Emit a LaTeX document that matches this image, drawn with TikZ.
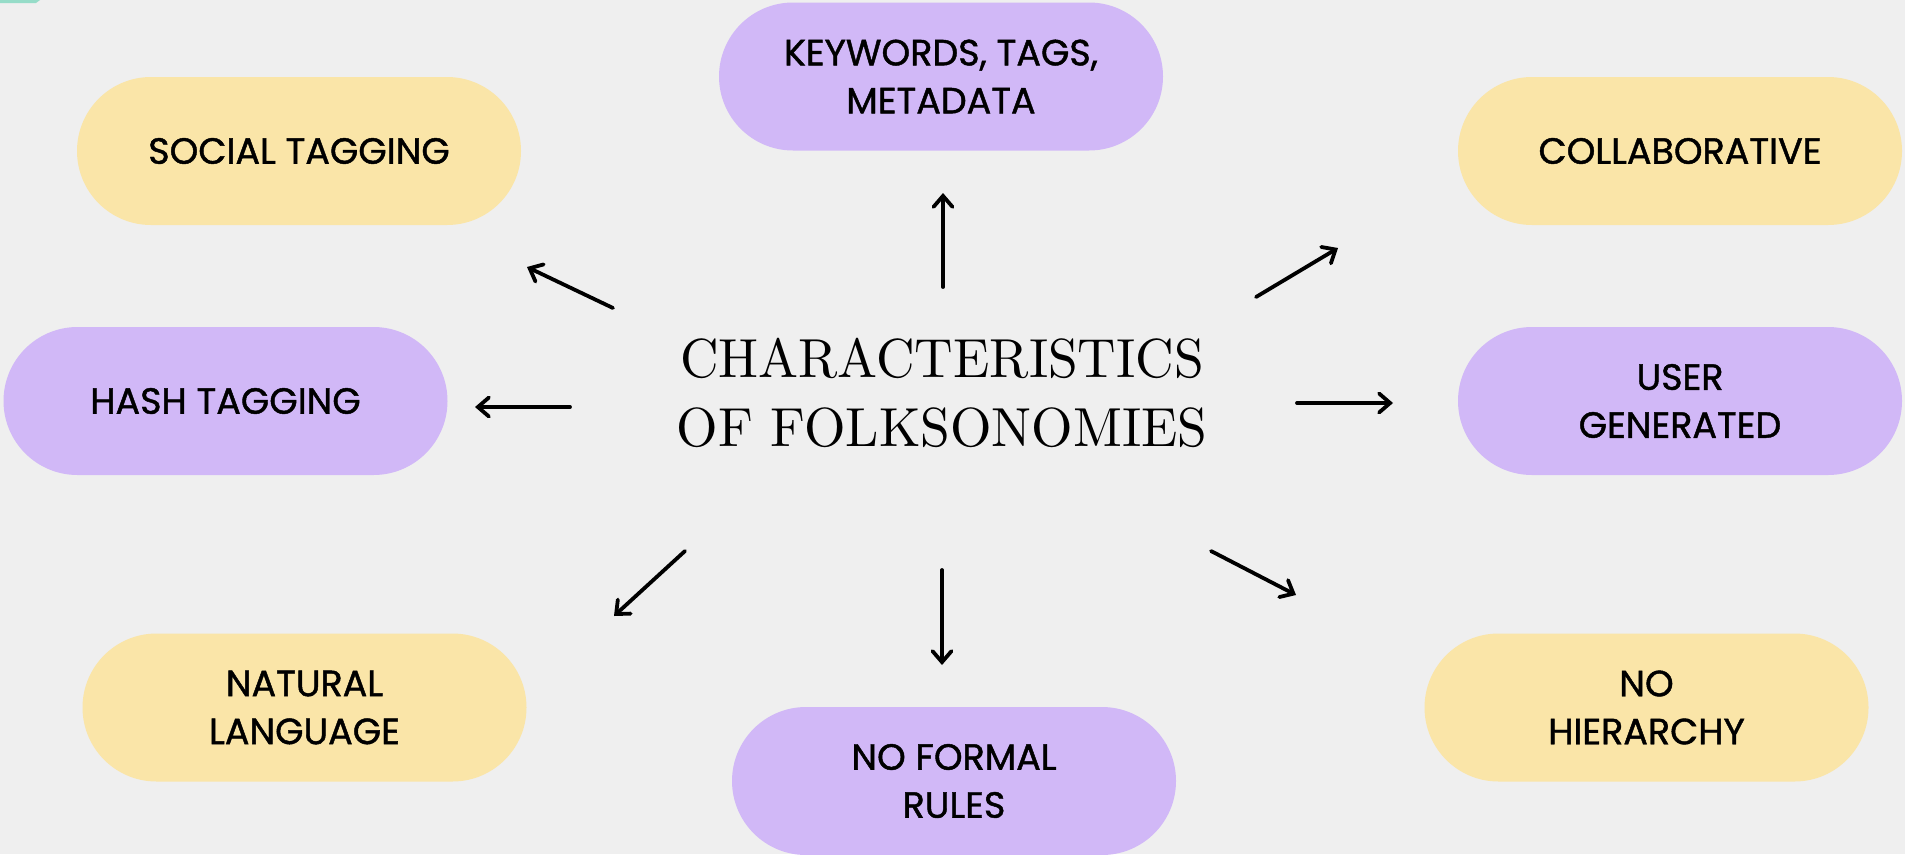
\documentclass[tikz,border=0pt]{standalone}
\usepackage{graphicx}
\usepackage{fontspec}
\usetikzlibrary{arrows.meta}
\newfontfamily\pillfont{Poppins}[FakeBold=1.2]
\newfontfamily\titlefont{lmroman10-regular.otf}
\definecolor{paper}{RGB}{239,239,239}
\definecolor{pillyellow}{RGB}{250,229,168}
\definecolor{pillpurple}{RGB}{209,184,247}
\definecolor{accentteal}{RGB}{150,220,200}
\tikzset{
  pill/.style={rectangle, rounded corners=74pt, minimum width=444pt, minimum height=148pt,
    inner sep=0pt, align=center, text=black, font=\pillfont\fontsize{36.5}{48}\selectfont},
  ypill/.style={pill, fill=pillyellow},
  ppill/.style={pill, fill=pillpurple},
  radarrow/.style={line width=3.8pt, line cap=round, -{Straight Barb[length=11pt,width=19pt,line cap=round]}},
  titletext/.style={inner sep=0pt, align=center, font=\titlefont\fontsize{55}{74}\selectfont}
}
\begin{document}
\begin{tikzpicture}[x=1pt,y=-1pt]
\useasboundingbox (0,0) rectangle (1905,854);
\clip (0,0) rectangle (1905,854);
\fill[paper] (0,0) rectangle (1905,854);
\fill[accentteal] (0,0) -- (40,0) -- (36,3) -- (0,3) -- cycle;

% title
\node[titletext] (title) at (942,397) {\scalebox{0.97}[1]{\begin{tabular}{@{}c@{}}CHARACTERISTICS\\[-0.2ex] OF FOLKSONOMIES\end{tabular}}};

% pills
\node[ypill]  (social) at (299,151)    {SOCIAL TAGGING};
\node[ppill]  (keywords) at (941,76.5) {KEYWORDS, TAGS,\\METADATA};
\node[ypill]  (collab) at (1680,151)   {COLLABORATIVE};
\node[ppill]  (hash) at (225.5,401)    {HASH TAGGING};
\node[ppill]  (user) at (1680,401)     {USER\\GENERATED};
\node[ypill]  (natural) at (304.5,707.5) {NATURAL\\LANGUAGE};
\node[ppill]  (formal) at (954,781)    {NO FORMAL\\RULES};
\node[ypill]  (hier) at (1646.5,707.5) {NO\\HIERARCHY};

% arrow end points
\coordinate (nA) at (943,287);  \coordinate (nB) at (943,193);
\coordinate (neA) at (1256,297); \coordinate (neB) at (1338,248);
\coordinate (eA) at (1297,403);  \coordinate (eB) at (1393,403);
\coordinate (seA) at (1211,551); \coordinate (seB) at (1296,595);
\coordinate (sA) at (942,570);   \coordinate (sB) at (942,665);
\coordinate (swA) at (685,551);  \coordinate (swB) at (614,616);
\coordinate (wA) at (570,407);   \coordinate (wB) at (475,407);
\coordinate (nwA) at (613,308);  \coordinate (nwB) at (527,267);

\draw[radarrow] (nA) -- (nB);
\draw[radarrow] (neA) -- (neB);
\draw[radarrow] (eA) -- (eB);
\draw[radarrow] (seA) -- (seB);
\draw[radarrow] (sA) -- (sB);
\draw[radarrow] (swA) -- (swB);
\draw[radarrow] (wA) -- (wB);
\draw[radarrow] (nwA) -- (nwB);
\end{tikzpicture}
\end{document}
